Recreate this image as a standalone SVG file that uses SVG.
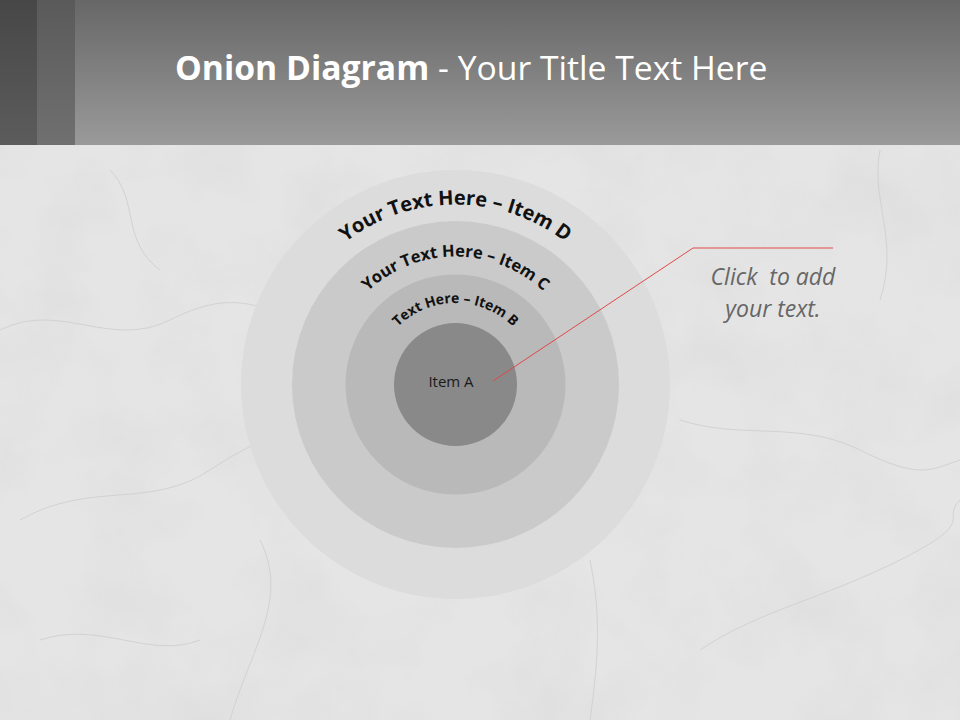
<svg xmlns="http://www.w3.org/2000/svg" xmlns:xlink="http://www.w3.org/1999/xlink" width="960" height="720" viewBox="0 0 960 720">
<defs>
<linearGradient id="hdr" x1="0" y1="0" x2="0" y2="1">
<stop offset="0" stop-color="#676767"/>
<stop offset="1" stop-color="#9a9a9a"/>
</linearGradient>
<linearGradient id="s1" x1="0" y1="0" x2="0" y2="1">
<stop offset="0" stop-color="#474747"/>
<stop offset="1" stop-color="#5c5c5c"/>
</linearGradient>
<linearGradient id="s2" x1="0" y1="0" x2="0" y2="1">
<stop offset="0" stop-color="#5a5a5a"/>
<stop offset="1" stop-color="#707070"/>
</linearGradient>
<path id="arcD" d="M 275.5 384.5 A 180 180 0 0 1 635.5 384.5"/>
<path id="arcC" d="M 327.5 384.5 A 128 128 0 0 1 583.5 384.5"/>
<path id="arcB" d="M 374 384.5 A 81.5 81.5 0 0 1 537 384.5"/>
<filter id="marble" x="0" y="0" width="1" height="1">
<feTurbulence type="fractalNoise" baseFrequency="0.012" numOctaves="4" seed="3"/>
<feColorMatrix type="matrix" values="0 0 0 0 0.5  0 0 0 0 0.5  0 0 0 0 0.5  -0.6 0 0 0 0.35"/>
</filter>
</defs>
<style>
.arc{font-family:"Open Sans","DejaVu Sans",sans-serif;font-weight:bold;fill:#111;}
.vein{fill:none;stroke:#d2d2d2;stroke-width:1;}
</style>
<rect x="0" y="0" width="960" height="720" fill="#e5e5e5"/>
<rect x="0" y="145" width="960" height="575" filter="url(#marble)" opacity="0.5"/>
<g id="veins">
<path class="vein" d="M0 330 C60 300 110 350 170 320 S260 300 330 340"/>
<path class="vein" d="M20 520 C90 480 150 510 210 470 S300 430 340 410"/>
<path class="vein" d="M230 720 C250 650 290 600 260 540"/>
<path class="vein" d="M590 720 C600 650 600 610 590 560"/>
<path class="vein" d="M700 650 C760 610 820 600 900 560 S940 520 960 500"/>
<path class="vein" d="M680 420 C740 440 800 420 860 450 S930 470 960 460"/>
<path class="vein" d="M110 170 C140 200 120 240 160 270"/>
<path class="vein" d="M880 150 C870 200 900 240 880 300"/>
<path class="vein" d="M40 640 C100 620 150 660 200 640"/>
</g>
<g id="header">
<rect x="0" y="0" width="960" height="145" fill="url(#hdr)"/>
<rect x="0" y="0" width="37" height="145" fill="url(#s1)"/>
<rect x="37" y="0" width="38" height="145" fill="url(#s2)"/>
<text x="175" y="80" font-family="'Open Sans','DejaVu Sans',sans-serif" font-size="33.7" fill="#ffffff"><tspan font-weight="bold">Onion Diagram</tspan> - Your Title Text Here</text>
</g>
<g id="itemD">
<circle cx="455.5" cy="384.5" r="214.5" fill="#dcdcdc"/>
<text class="arc" font-size="20"><textPath xlink:href="#arcD" href="#arcD" startOffset="50%" text-anchor="middle">Your Text Here – Item D</textPath></text>
</g>
<g id="itemC">
<circle cx="455.5" cy="384.5" r="163.5" fill="#cacaca"/>
<text class="arc" font-size="16.5"><textPath xlink:href="#arcC" href="#arcC" startOffset="50%" text-anchor="middle">Your Text Here – Item C</textPath></text>
</g>
<g id="itemB">
<circle cx="455.5" cy="384.5" r="110" fill="#b9b9b9"/>
<text class="arc" font-size="14"><textPath xlink:href="#arcB" href="#arcB" startOffset="50%" text-anchor="middle">Text Here – Item B</textPath></text>
</g>
<g id="itemA">
<circle cx="455.5" cy="384.5" r="61.5" fill="#898989"/>
<text x="451" y="387" text-anchor="middle" font-family="'Open Sans','DejaVu Sans',sans-serif" font-size="15" fill="#1a1a1a">Item A</text>
</g>
<g id="connectors">
<polyline points="493,381 693,248 833,248" fill="none" stroke="#e04848" stroke-width="1"/>
</g>
<g id="callout">
<text x="773" y="285" text-anchor="middle" font-family="'Open Sans','DejaVu Sans',sans-serif" font-style="italic" font-size="23" fill="#666666" xml:space="preserve">Click  to add</text>
<text x="773" y="317" text-anchor="middle" font-family="'Open Sans','DejaVu Sans',sans-serif" font-style="italic" font-size="23" fill="#666666">your text.</text>
</g>
</svg>
